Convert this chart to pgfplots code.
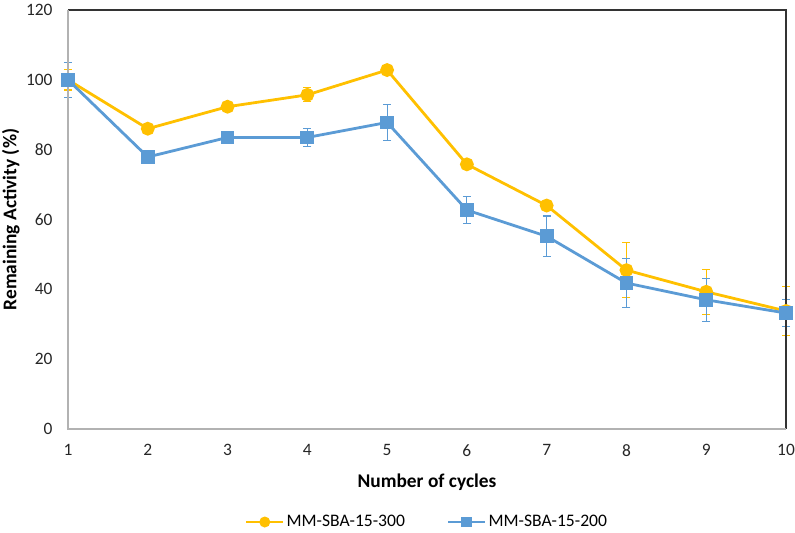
\documentclass[border=0pt]{standalone}
\usepackage{pgfplots}
\pgfplotsset{compat=1.18}
\usepackage{fontspec}
\setmainfont{Carlito}
\definecolor{cyel}{HTML}{FFC000}
\definecolor{cblu}{HTML}{5B9BD5}
\begin{document}
\begin{tikzpicture}
\useasboundingbox (-68bp,-104bp) rectangle (727bp,429bp);
\begin{axis}[
  scale only axis,
  width=718bp, height=419bp,
  xmin=1, xmax=10, ymin=0, ymax=120,
  xtick={1,...,10}, ytick={0,20,...,120},
  major tick length=0pt,
  axis line style={draw=none},
  /pgf/number format/assume math mode=true,
  tick label style={font=\fontsize{17.4bp}{20bp}\selectfont, color=black!85},
  xticklabel style={yshift=-12bp},
  yticklabel style={xshift=-12bp},
  xlabel={\textbf{Number of cycles}},
  ylabel={\textbf{Remaining Activity (\%)}},
  label style={font=\fontsize{19.4bp}{22bp}\selectfont},
  xlabel style={at={(axis description cs:0.5,-0.126)}, anchor=center},
  ylabel style={at={(axis description cs:-0.0795,0.5)}, anchor=center},
  legend columns=2,
  legend style={draw=none, at={(0.5,-0.222)}, anchor=center,
    font=\fontsize{17.6bp}{20bp}\selectfont,
    /tikz/every even column/.append style={column sep=40bp}},
  legend image code/.code={\draw[mark repeat=2,mark phase=2, mark size=4bp] plot coordinates {(0cm,0cm)(0.65cm,0cm)(1.3cm,0cm)};},
  clip=false,
]
\addplot[color=cyel, line width=2.8bp, mark=*, mark size=5.5bp, mark options={solid},
  error bars/.cd, y dir=both, y explicit,
  error mark options={rotate=90, mark size=4bp, line width=1.1bp, color=cyel},
  error bar style={line width=1.1bp, color=cyel}]
  coordinates {
  (1,100) +- (0,2.9)
  (2,86) +- (0,0.6)
  (3,92.3) +- (0,0.6)
  (4,95.7) +- (0,2)
  (5,102.8) +- (0,0.6)
  (6,75.8) +- (0,0.6)
  (7,64) +- (0,0.6)
  (8,45.5) +- (0,7.9)
  (9,39.3) +- (0,6.4)
  (10,33.8) +- (0,7.1)
  };
\addlegendentry{MM-SBA-15-300}
\addplot[color=cblu, line width=2.8bp, mark=square*, mark size=5.5bp, mark options={solid},
  error bars/.cd, y dir=both, y explicit,
  error mark options={rotate=90, mark size=4bp, line width=1.1bp, color=cblu},
  error bar style={line width=1.1bp, color=cblu}]
  coordinates {
  (1,100) +- (0,5)
  (2,77.9) +- (0,1.5)
  (3,83.5) +- (0,0.6)
  (4,83.5) +- (0,2.6)
  (5,87.8) +- (0,5.1)
  (6,62.7) +- (0,3.9)
  (7,55.2) +- (0,5.8)
  (8,41.8) +- (0,7)
  (9,37) +- (0,6.1)
  (10,33.2) +- (0,3.8)
  };
\addlegendentry{MM-SBA-15-200}
\draw[black!80, line width=1.2bp] (rel axis cs:0,1) -- (rel axis cs:1,1) -- (rel axis cs:1,0);
\draw[black!30, line width=1.5bp] (rel axis cs:0,1) -- (rel axis cs:0,0) -- (rel axis cs:1,0);
\end{axis}
\end{tikzpicture}
\end{document}
